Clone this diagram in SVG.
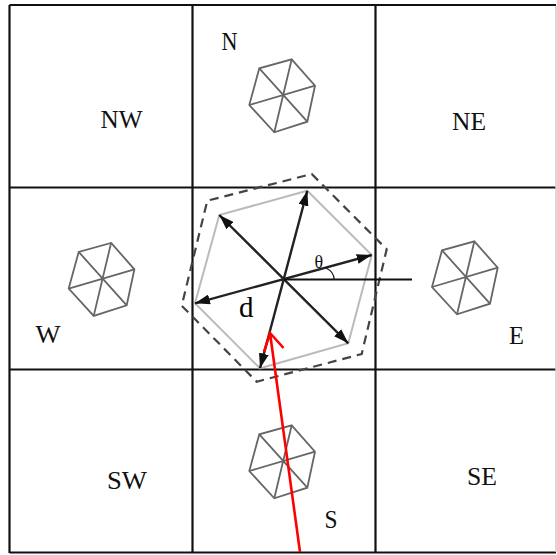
<svg xmlns="http://www.w3.org/2000/svg" width="557" height="555" viewBox="0 0 557 555">
<style>
.grid{stroke:#111;stroke-width:2.2;fill:none}
.hexs{stroke:#666;stroke-width:1.8;fill:none}
.lbl{font-family:"Liberation Serif","Times New Roman",serif;fill:#111;font-size:26px}
.arr{stroke:#222;stroke-width:2.4;fill:none;marker-start:url(#ah);marker-end:url(#ah)}
</style>
<defs>
<marker id="ah" viewBox="0 0 15 10" refX="15" refY="5" markerWidth="15" markerHeight="10" markerUnits="userSpaceOnUse" orient="auto-start-reverse"><path d="M0 0L15 5L0 10Z" fill="#111"/></marker>
<g id="hex">
<path class="hexs" d="M8.4-36.4L31.7-10L24 26L-9 36.6L-34 9.3L-24-27.4Z"/>
<path class="hexs" d="M8.4-36.4L-9 36.6M31.7-10L-34 9.3M24 26L-24-27.4"/>
</g>
</defs>
<rect width="557" height="555" fill="#fff"/>
<g id="grid" class="grid">
<path d="M9.5 5H556M9.5 187.5H556M9.5 369.5H556M9.5 552.5H556M9.5 5V553M192.5 5V553M375.5 5V553"/>
<path d="M556 6V552" stroke="#ccc" stroke-width="1.5"/>
</g>
<g id="NW"><text class="lbl" x="100.5" y="128" textLength="42" lengthAdjust="spacingAndGlyphs">NW</text></g>
<g id="N"><use href="#hex" x="283.3" y="95.7"/><text class="lbl" x="221.5" y="50" textLength="16" lengthAdjust="spacingAndGlyphs">N</text></g>
<g id="NE"><text class="lbl" x="452" y="130" textLength="34" lengthAdjust="spacingAndGlyphs">NE</text></g>
<g id="W"><use href="#hex" x="102.7" y="279.3"/><text class="lbl" x="35.5" y="343" textLength="25" lengthAdjust="spacingAndGlyphs">W</text></g>
<g id="center">
<path d="M307.3 190.7L371.7 255L348.3 343.3L260 368.3L195 303.3L219.3 215Z" fill="none" stroke="#bbb" stroke-width="2"/>
<path d="M311.7 174L386.7 249.3L361.7 354L256.7 381.7L181.7 305.7L207.3 200.7Z" fill="none" stroke="#444" stroke-width="2.2" stroke-dasharray="9 6"/>
<path class="arr" d="M260 368.3L307.3 190.7"/>
<path class="arr" d="M195 303.3L371.7 255"/>
<path class="arr" d="M219.3 215L348.3 343.3"/>
<path d="M284 279.5H412" stroke="#111" stroke-width="1.8" fill="none"/>
<path d="M326 268Q334 272 334 279" stroke="#111" stroke-width="1.2" fill="none"/>
<text x="314.5" y="268" font-family="Liberation Serif,serif" font-size="18" fill="#111">θ</text>
<text x="239" y="317" font-family="Liberation Serif,serif" font-size="29" fill="#000">d</text>
</g>
<g id="E"><use href="#hex" x="466" y="277.7"/><text class="lbl" x="509" y="344" textLength="15" lengthAdjust="spacingAndGlyphs">E</text></g>
<g id="SW"><text class="lbl" x="107" y="489" textLength="40" lengthAdjust="spacingAndGlyphs">SW</text></g>
<g id="S"><use href="#hex" x="283.3" y="461.7"/><text class="lbl" x="324.5" y="528" textLength="13" lengthAdjust="spacingAndGlyphs">S</text></g>
<g id="SE"><text class="lbl" x="467" y="485" textLength="30" lengthAdjust="spacingAndGlyphs">SE</text></g>
<g id="connectors">
<path d="M300 552L270 333M264 352L270 333L283.5 348" stroke="#f00" stroke-width="2.6" fill="none"/>
</g>
</svg>
